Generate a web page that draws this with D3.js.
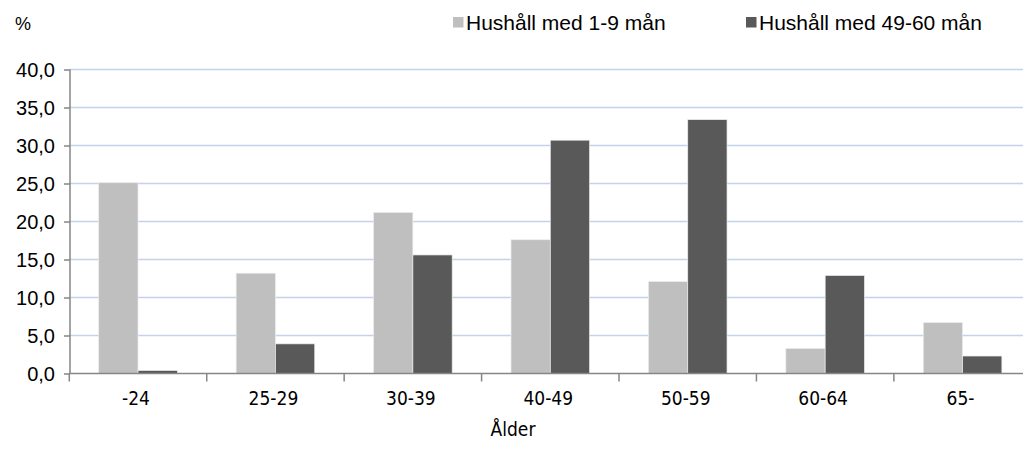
<!DOCTYPE html>
<html><head><meta charset="utf-8">
<script src="https://cdn.jsdelivr.net/npm/d3@7/dist/d3.min.js"></script>
<style>body{margin:0;background:#fff}svg{display:block}</style>
</head><body><svg id="c" width="1023" height="459"></svg>
<script>
const categories = ["-24","25-29","30-39","40-49","50-59","60-64","65-"];
const seriesNames = ["Hushåll med 1-9 mån","Hushåll med 49-60 mån"];
const short = [25.1, 13.2, 21.2, 17.6, 12.1, 3.3, 6.7];
const long = [0.4, 3.9, 15.6, 30.7, 33.4, 12.9, 2.3];
const yTicks = [0,5,10,15,20,25,30,35,40];
const colors = ["#bfbfbf","#595959"];

const ARIAL = "Liberation Sans, Arial, sans-serif";
const CALIBRI = "DejaVu Sans Condensed, DejaVu Sans, sans-serif";

const svg = d3.select("#c");
const x0 = d3.scaleBand().domain(categories).range([69.3,1031.3]);
const grp = x0.bandwidth()*0.572;
const x1 = d3.scaleBand().domain([0,1]).range([(x0.bandwidth()-grp)/2,(x0.bandwidth()+grp)/2]);
const y = d3.scaleLinear().domain([0,40]).range([373.5,69.5]);

// grid
svg.append("g").selectAll("line").data(yTicks.filter(d=>d>0)).join("line")
  .attr("x1",70).attr("x2",1023).attr("y1",d=>y(d)).attr("y2",d=>y(d))
  .attr("stroke","#c3d3e9").attr("stroke-width",1.6);

// bars
const data = categories.map((c,i)=>({c, v:[short[i], long[i]]}));
const g = svg.append("g").selectAll("g").data(data).join("g")
  .attr("transform", d=>`translate(${x0(d.c)},0)`);
g.selectAll("rect").data(d=>d.v.map((v,k)=>({v,k}))).join("rect")
  .attr("x", d=>x1(d.k)).attr("width", x1.bandwidth())
  .attr("y", d=>y(d.v)).attr("height", d=>y(0)-y(d.v))
  .attr("fill", d=>colors[d.k]).attr("stroke","#ededed").attr("stroke-width",0.7);

// y axis
const yAxis = d3.axisLeft(y).tickValues(yTicks).tickSize(6).tickPadding(9)
  .tickFormat(d=>d3.format(".1f")(d).replace(".",","));
const ya = svg.append("g").attr("transform","translate(70,0)").call(yAxis);
ya.select(".domain").attr("stroke","#868686").attr("stroke-width",1.5).attr("d","M0,69.5V373.5");
ya.selectAll(".tick line").attr("stroke","#868686").attr("stroke-width",1.5);
ya.selectAll(".tick text").attr("font-family",ARIAL).attr("font-size",20).attr("fill","#000").attr("dy","0.36em");

// x axis
const xa = svg.append("g").attr("transform","translate(0,373.5)");
xa.append("line").attr("x1",69).attr("x2",1023).attr("y1",0).attr("y2",0).attr("stroke","#868686").attr("stroke-width",1.5);
xa.selectAll(".xt").data(categories.map(c=>x0(c))).join("line").attr("class","xt")
  .attr("x1",d=>d).attr("x2",d=>d).attr("y1",0).attr("y2",8).attr("stroke","#868686").attr("stroke-width",1.5);
xa.selectAll("text").data(categories).join("text")
  .attr("x",d=>x0(d)+x0.bandwidth()/2 - 2).attr("y",31).attr("text-anchor","middle")
  .attr("font-family",CALIBRI).attr("font-size",19).attr("fill","#000")
  .text(d=>d);

svg.append("text").attr("x",513).attr("y",436).attr("text-anchor","middle")
  .attr("font-family",CALIBRI).attr("font-size",19).text("Ålder");
svg.append("text").attr("x",15).attr("y",30)
  .attr("font-family",ARIAL).attr("font-size",18).text("%");

// legend
const lx = [453, 746];
const lg = svg.append("g").selectAll("g").data(seriesNames).join("g")
  .attr("transform",(d,i)=>`translate(${lx[i]},0)`);
lg.append("rect").attr("x",0).attr("y",17).attr("width",10.5).attr("height",10.5).attr("fill",(d,i)=>colors[i]);
lg.append("text").attr("x",13).attr("y",30).attr("font-family",ARIAL)
  .attr("font-size",21).text(d=>d);
</script></body></html>
